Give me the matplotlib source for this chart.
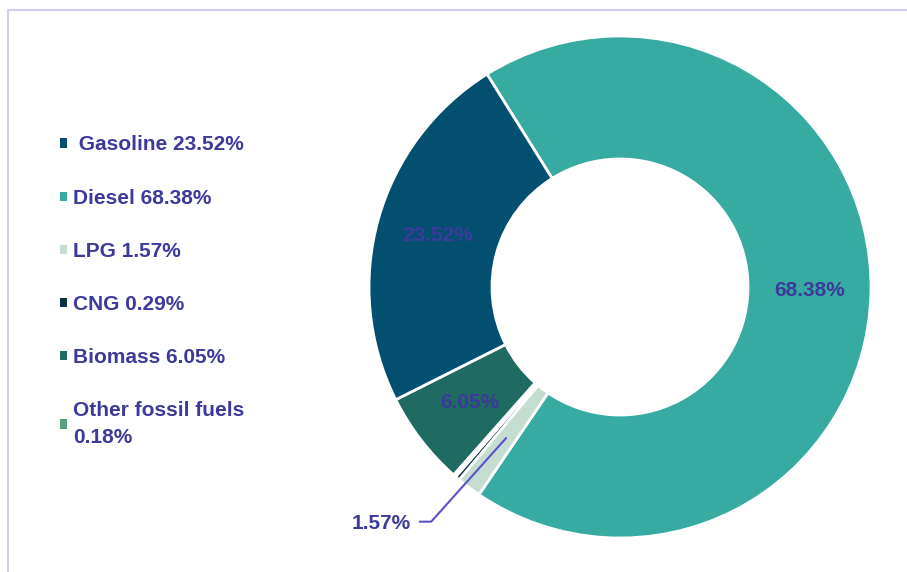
import matplotlib.pyplot as plt
import numpy as np
from matplotlib.patches import Patch
from matplotlib.lines import Line2D

# Fuel shares (legend order)
fuels = ['Gasoline', 'Diesel', 'LPG', 'CNG', 'Biomass', 'Other fossil fuels']
shares = [23.52, 68.38, 1.57, 0.29, 6.05, 0.18]
colors = ['#034f70', '#37aba2', '#c4ddd0', '#0b3146', '#1f6a61', '#5a9e7b']
legend_labels = [' Gasoline 23.52%', 'Diesel 68.38%', 'LPG 1.57%', 'CNG 0.29%',
                 'Biomass 6.05%', 'Other fossil fuels\n0.18%']
# order of the slices around the ring, clockwise
ring_order = [1, 2, 3, 5, 4, 0]
inside_labels = ['Gasoline', 'Diesel', 'Biomass']
outside_labels = ['LPG']

text_color = '#3c3a9b'
plt.rcParams['font.family'] = ['Liberation Sans', 'DejaVu Sans']

fig = plt.figure(figsize=(9.07, 5.72), dpi=100)
ax = fig.add_axes([0, 0, 1, 1])

wedges, _ = ax.pie([shares[i] for i in ring_order],
                   colors=[colors[i] for i in ring_order],
                   startangle=122, counterclock=False, radius=1,
                   wedgeprops=dict(width=0.49, edgecolor='white', linewidth=2))

R = 251.0  # px per unit radius
ax.set_aspect('auto')
ax.set_xlim(-620 / R, 287 / R)
ax.set_ylim(-285 / R, 287 / R)
ax.axis('off')

for w, idx in zip(wedges, ring_order):
    mid = np.deg2rad((w.theta1 + w.theta2) / 2)
    label = f'{shares[idx]:.2f}%'
    if fuels[idx] in inside_labels:
        ax.text(0.755 * np.cos(mid), 0.755 * np.sin(mid), label,
                ha='center', va='center', fontsize=15, fontweight='bold',
                color=text_color)
    elif fuels[idx] in outside_labels:
        x0, y0 = 0.755 * np.cos(mid), 0.755 * np.sin(mid)
        elbow = mid - np.deg2rad(1.8)
        x1, y1 = 1.2 * np.cos(elbow), 1.2 * np.sin(elbow)
        ax.plot([x0, x1, x1 - 0.045], [y0, y1, y1], color='#5b50c8', lw=1.5)
        ax.text(x1 - 0.08, y1 - 0.008, label, ha='right', va='center',
                fontsize=15, fontweight='bold', color=text_color)

handles = [Patch(facecolor=c, edgecolor='none') for c in colors]
leg = fig.legend(handles=handles, labels=legend_labels, loc='upper left',
                 bbox_to_anchor=(50 / 907, 1 - 125 / 572), frameon=False,
                 borderpad=0, handlelength=0.3, handleheight=0.3,
                 handletextpad=0.3, labelspacing=1.64,
                 prop=dict(size=15, weight='bold'), labelcolor=text_color)
leg.get_texts()[-1].set_linespacing(1.5)

# frame border
fig.add_artist(Line2D([8 / 907, 8 / 907, 1.0], [0, 1 - 10 / 572, 1 - 10 / 572],
                      color='#d2cdf0', lw=1.5, transform=fig.transFigure))

fig.savefig('out.png', dpi=100)
